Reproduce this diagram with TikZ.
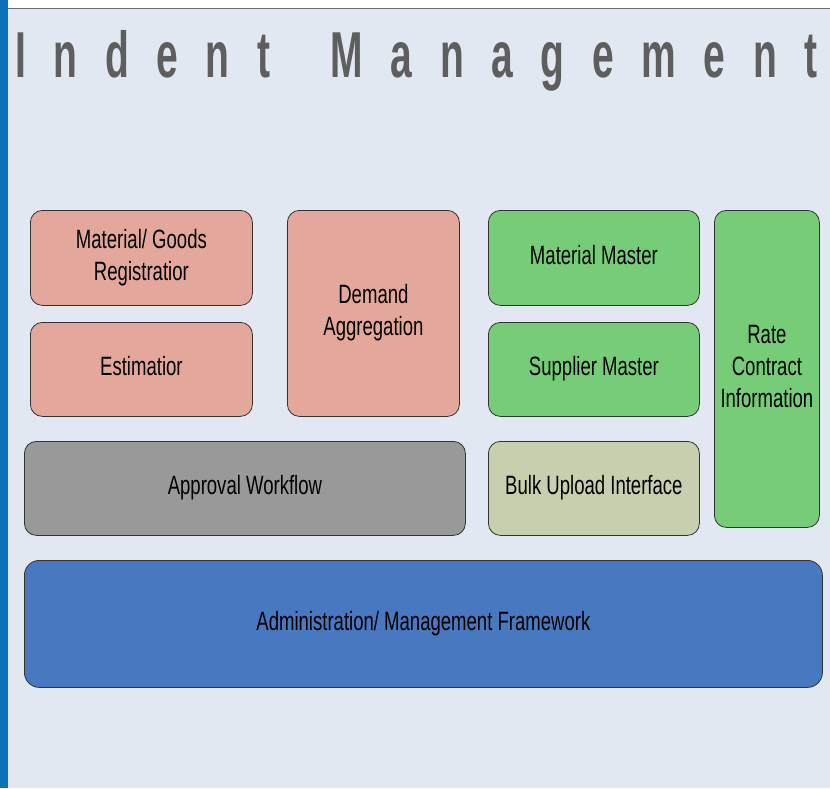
\documentclass[tikz,border=0pt]{standalone}
\usepackage{fontspec}
\setmainfont{Liberation Sans}
\usepackage{graphicx}
\definecolor{bgc}{HTML}{E1E8F2}
\definecolor{sidebar}{HTML}{0B70B7}
\definecolor{topline}{HTML}{6E6E6E}
\definecolor{titlec}{HTML}{5E5E5E}
\definecolor{salmon}{HTML}{E3A79B}
\definecolor{greenc}{HTML}{77CD77}
\definecolor{grayc}{HTML}{999999}
\definecolor{khaki}{HTML}{C7CFAE}
\definecolor{bluec}{HTML}{4878C0}
\newcommand\nar[1]{{\fontsize{26.5}{32}\selectfont\scalebox{0.7}[1]{\begin{tabular}{@{}c@{}}#1\end{tabular}}}}
\begin{document}
\begin{tikzpicture}[x=1pt,y=-1pt,
  box/.style={draw=black!80, line width=0.8pt, rounded corners=12pt, inner sep=0pt, anchor=north west, text=black},
  pinkbox/.style={box, fill=salmon},
  greenbox/.style={box, fill=greenc}]
\useasboundingbox (0,0) rectangle (830,788);
\fill[white] (0,0) rectangle (830,788);
\fill[bgc] (8,9) rectangle (830,788);
\draw[topline, line width=1.5pt] (8,8.5) -- (830,8.5);
\fill[sidebar] (0,0) rectangle (7.5,788);
\node[anchor=base west, inner sep=0pt, text=titlec] (title) at (15,77)
  {\scalebox{0.6}[1]{\fontsize{65}{65}\selectfont\bfseries\spaceskip=46pt I n d e n t\hspace{55pt} M a n a g e m e n t}};
\node[pinkbox, minimum width=222pt, minimum height=95pt] (reg) at (30,210) {\nar{Material/ Goods\\Registratior}};
\node[pinkbox, minimum width=222pt, minimum height=94pt] (est) at (30,322) {\nar{Estimatior}};
\node[pinkbox, minimum width=172pt, minimum height=206pt] (dem) at (287,210) {\nar{Demand\\Aggregation}};
\node[greenbox, minimum width=211pt, minimum height=95pt] (mat) at (488,210) {\nar{Material Master}};
\node[greenbox, minimum width=211pt, minimum height=94pt] (sup) at (488,322) {\nar{Supplier Master}};
\node[greenbox, minimum width=105pt, minimum height=317pt] (rate) at (714,210) {\nar{Rate\\Contract\\Information}};
\node[box, fill=grayc, minimum width=441pt, minimum height=94pt] (appr) at (24,441) {\nar{Approval Workflow}};
\node[box, fill=khaki, minimum width=211pt, minimum height=94pt] (bulk) at (488,441) {\nar{Bulk Upload Interface}};
\node[box, fill=bluec, rounded corners=15pt, minimum width=798pt, minimum height=127pt] (admin) at (24,560) {\nar{Administration/ Management Framework}};
\end{tikzpicture}
\end{document}
